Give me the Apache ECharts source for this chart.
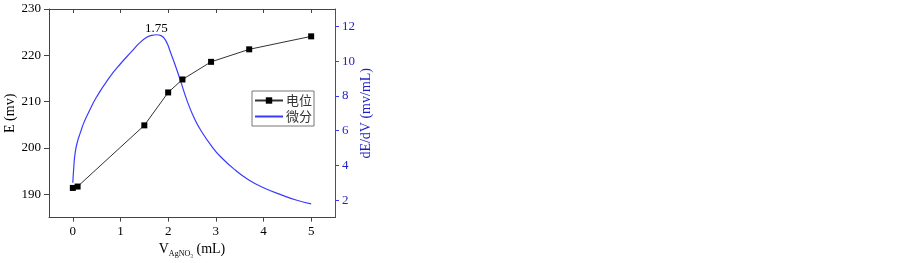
<!DOCTYPE html>
<html><head><meta charset="utf-8">
<script src="https://cdn.jsdelivr.net/npm/echarts@6/dist/echarts.min.js"></script>
<style>html,body{margin:0;padding:0;background:#fff}#c{width:900px;height:263px}</style>
</head><body><div id="c"></div>
<script>
// Potential (电位) data
const potentialX = [0, 0.1, 1.5, 2.0, 2.3, 2.9, 3.7, 5.0];
const potentialY = [191.4, 191.7, 204.9, 212.0, 214.8, 218.6, 221.3, 224.1];
// Derivative (微分) curve
const derivX = [0, 0.02, 0.05, 0.1, 0.16, 0.23, 0.33, 0.5, 0.75, 1.0, 1.25, 1.4, 1.55, 1.65, 1.75, 1.85, 1.95, 2.05, 2.15, 2.25, 2.4, 2.55, 2.7, 2.9, 3.1, 3.4, 3.7, 4.0, 4.4, 4.7, 5.0];
const derivY = [3.0, 3.9, 4.75, 5.4, 5.9, 6.45, 7.05, 7.95, 9.0, 9.85, 10.6, 11.05, 11.37, 11.48, 11.52, 11.47, 11.18, 10.5, 9.75, 8.95, 7.7, 6.7, 5.95, 5.15, 4.5, 3.75, 3.15, 2.72, 2.28, 2.0, 1.79];
const peakX = 1.75;
const xTicks = [0, 1, 2, 3, 4, 5];
const leftTicks = [190, 200, 210, 220, 230];
const rightTicks = [2, 4, 6, 8, 10, 12];
const seriesNames = ['电位', '微分'];

const serif = 'Liberation Serif';
const blue = '#3b3bff';
const blueText = '#1f1fc8';
const frame = '#444';

const chart = echarts.init(document.getElementById('c'), null, {renderer: 'canvas'});
chart.setOption({
  animation: false,
  backgroundColor: '#fff',
  grid: {left: 49, right: 565, top: 9, bottom: 43},
  legend: {
    orient: 'vertical', left: 252, top: 91,
    itemWidth: 28, itemHeight: 8, itemGap: 3,
    padding: [3, 2, 3, 2],
    borderColor: '#777', borderWidth: 1,
    textStyle: {fontFamily: 'Noto Sans CJK SC', fontSize: 13, color: '#333', padding: [0, 0, 0, -2]},
    data: [{name: seriesNames[0]}, {name: seriesNames[1], itemStyle: {opacity: 0}}]
  },
  xAxis: [{
    type: 'value', min: -0.5, max: 5.5, position: 'bottom',
    name: '{a|V}{s|AgNO₃}{a| (mL)}', nameLocation: 'middle', nameGap: 20,
    nameTextStyle: {rich: {
      a: {fontFamily: serif, fontSize: 14, color: '#000'},
      s: {fontFamily: serif, fontSize: 8, color: '#000', padding: [9, 0, 0, 0], verticalAlign: 'bottom'}
    }},
    axisLine: {show: true, onZero: false, lineStyle: {color: frame, width: 1}},
    axisTick: {show: true, inside: false, length: 4, customValues: xTicks, lineStyle: {color: frame}},
    axisLabel: {customValues: xTicks, margin: 7, fontFamily: serif, fontSize: 13, color: '#000'},
    splitLine: {show: false}
  }, {
    type: 'value', min: -0.5, max: 5.5, position: 'top',
    axisLine: {show: true, onZero: false, lineStyle: {color: frame, width: 1}},
    axisTick: {show: true, inside: true, length: 4, customValues: xTicks, lineStyle: {color: frame}},
    axisLabel: {show: false},
    splitLine: {show: false}
  }],
  yAxis: [{
    type: 'value', min: 185, max: 230, position: 'left',
    name: 'E (mv)', nameLocation: 'middle', nameGap: 32, nameRotate: 90,
    nameTextStyle: {fontFamily: serif, fontSize: 14, color: '#000'},
    axisLine: {show: true, onZero: false, lineStyle: {color: frame, width: 1}},
    axisTick: {show: true, inside: false, length: 5, customValues: leftTicks, lineStyle: {color: frame}},
    axisLabel: {customValues: leftTicks, margin: 8, fontFamily: serif, fontSize: 13, color: '#000'},
    splitLine: {show: false}
  }, {
    type: 'value', min: 1, max: 13, position: 'right',
    name: 'dE/dV (mv/mL)', nameLocation: 'middle', nameGap: 23, nameRotate: 90,
    nameTextStyle: {fontFamily: serif, fontSize: 14, color: blueText},
    axisLine: {show: true, onZero: false, lineStyle: {color: blue, width: 1}},
    axisTick: {show: true, inside: false, length: 4, customValues: rightTicks, lineStyle: {color: blue}},
    axisLabel: {customValues: rightTicks, margin: 7, fontFamily: serif, fontSize: 13, color: blueText},
    splitLine: {show: false}
  }],
  series: [{
    name: seriesNames[0], type: 'line', xAxisIndex: 0, yAxisIndex: 0,
    data: potentialX.map((x, i) => [x, potentialY[i]]),
    symbol: 'rect', symbolSize: 6,
    itemStyle: {color: '#000'},
    lineStyle: {color: '#333', width: 1},
    z: 3
  }, {
    name: seriesNames[1], type: 'line', xAxisIndex: 0, yAxisIndex: 1,
    data: derivX.map((x, i) => x === peakX
      ? {value: [x, derivY[i]], label: {show: true, formatter: '{@[0]}', position: 'top', distance: 0,
          fontFamily: serif, fontSize: 13, color: '#000'}}
      : [x, derivY[i]]),
    smooth: 0.5, symbol: 'circle', symbolSize: 0, showSymbol: true,
    itemStyle: {color: blue},
    lineStyle: {color: blue, width: 1.2},
    label: {show: false},
    z: 2
  }]
});
</script>
</body></html>
